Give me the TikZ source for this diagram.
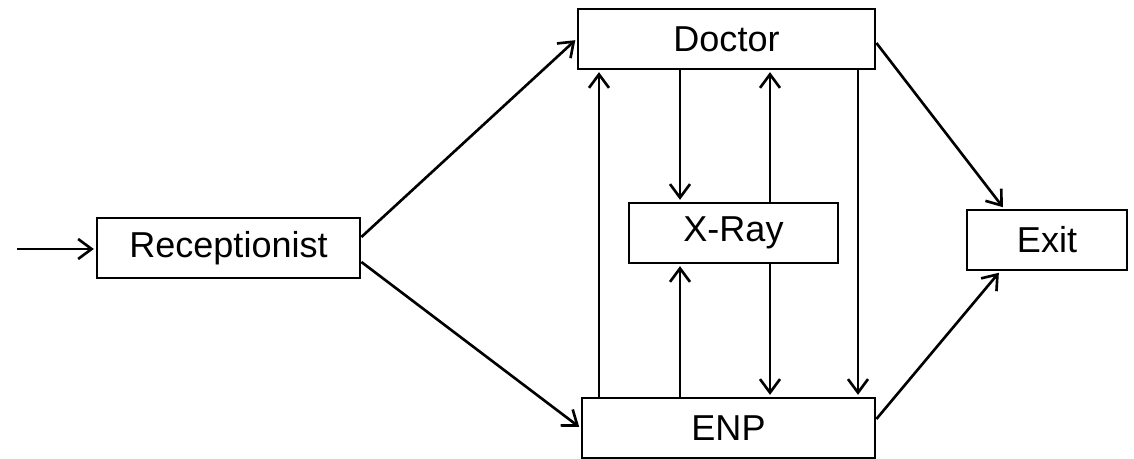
\documentclass[tikz,border=0pt]{standalone}
\usepackage{fontspec}
\setmainfont{Liberation Sans}
\usetikzlibrary{arrows.meta}
\tikzset{
  box/.style={draw=black,line width=1.6pt,minimum height=1.2cm,inner sep=0pt,font=\fontsize{20.5}{23}\selectfont},
  arr/.style={line width=1.5pt,shorten >=1pt,-{Straight Barb[length=2.7mm,width=4mm,line width=1.5pt]}}
}
\begin{document}
\begin{tikzpicture}
   \useasboundingbox (0,0) rectangle (22.68,9.18);
   \node[box,minimum width=5.26cm] (rec)  at (4.57,4.22)  {Receptionist};
   \node[box,minimum width=5.94cm] (doc)  at (14.53,8.4)  {Doctor};
   \node[box,minimum width=4.18cm] (xray) at (14.67,4.52) {X-Ray};
   \node[box,minimum width=5.86cm] (enp)  at (14.57,0.62) {ENP};
   \node[box,minimum width=3.2cm]  (exit) at (20.94,4.38) {Exit};
   \coordinate (in) at (0.34,4.2);
   \coordinate (c1) at (11.98,0);
   \coordinate (c2) at (13.6,0);
   \coordinate (c3) at (15.4,0);
   \coordinate (c4) at (17.16,0);
   \draw[arr] (in) -- (rec.west |- in);
   \draw[arr] ([yshift=0.22cm]rec.east) -- (doc.west);
   \draw[arr] ([yshift=-0.28cm]rec.east) -- (enp.west);
   \draw[arr] (enp.north -| c1) -- (doc.south -| c1);
   \draw[arr] (doc.south -| c2) -- (xray.north -| c2);
   \draw[arr] (enp.north -| c2) -- (xray.south -| c2);
   \draw[arr] (xray.north -| c3) -- (doc.south -| c3);
   \draw[arr] (xray.south -| c3) -- (enp.north -| c3);
   \draw[arr] (doc.south -| c4) -- (enp.north -| c4);
   \draw[arr] ([yshift=-0.08cm]doc.east) -- ([xshift=-0.86cm]exit.north);
   \draw[arr] ([yshift=0.18cm]enp.east) -- ([xshift=-0.94cm]exit.south);
\end{tikzpicture}
\end{document}
